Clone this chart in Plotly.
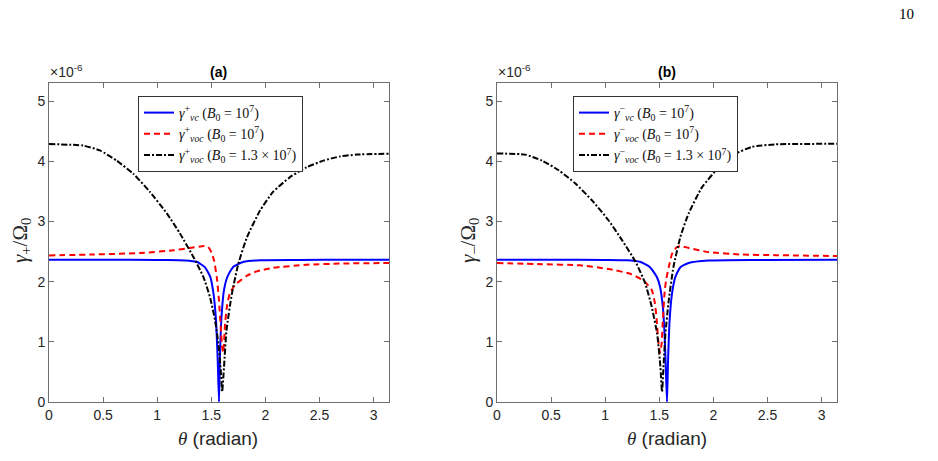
import plotly.graph_objects as go

# ---------------- data (values in units of 1e-6) ----------------
# Panel (a)
a_blue_theta = [0, 0.5, 1.0, 1.2, 1.3, 1.365, 1.44, 1.49, 1.52, 1.543, 1.559, 1.5708,
                1.58, 1.596, 1.617, 1.648, 1.70, 1.80, 1.95, 2.3, 2.8, 3.14159]
a_blue_val = [2.365, 2.365, 2.36, 2.355, 2.345, 2.33, 2.24, 2.08, 1.80, 1.36, 0.69, 0.0,
              0.81, 1.47, 1.86, 2.08, 2.24, 2.33, 2.355, 2.36, 2.365, 2.365]

a_red_theta = [0, 0.4, 0.84, 1.15, 1.30, 1.43, 1.47, 1.50, 1.525, 1.55, 1.57, 1.587, 1.60,
               1.61, 1.627, 1.645, 1.67, 1.72, 1.77, 1.83, 1.92, 2.07, 2.38, 2.69, 3.14159]
a_red_val = [2.435, 2.45, 2.475, 2.52, 2.56, 2.59, 2.575, 2.49, 2.35, 2.08, 1.70, 1.25, 0.91,
             0.82, 1.30, 1.60, 1.80, 1.95, 2.02, 2.10, 2.17, 2.23, 2.28, 2.30, 2.31]

a_black_theta = [0, 0.317, 0.47, 0.625, 0.78, 0.933, 1.09, 1.21, 1.334, 1.426, 1.488, 1.534,
                 1.565, 1.587, 1.60, 1.617, 1.64, 1.69, 1.75, 1.83, 1.95, 2.07, 2.23, 2.38,
                 2.535, 2.69, 2.84, 3.14159]
a_black_val = [4.285, 4.26, 4.18, 4.01, 3.79, 3.49, 3.13, 2.80, 2.41, 2.08, 1.74, 1.36,
               0.97, 0.53, 0.17, 0.58, 1.19, 1.80, 2.30, 2.74, 3.18, 3.49, 3.74, 3.90,
               4.01, 4.08, 4.11, 4.125]

# Panel (b)
b_blue_theta = [0, 0.5, 1.0, 1.2, 1.32, 1.414, 1.476, 1.506, 1.534, 1.55, 1.56, 1.5708,
                1.58, 1.595, 1.617, 1.648, 1.694, 1.77, 1.956, 2.4, 3.14159]
b_blue_val = [2.365, 2.365, 2.36, 2.355, 2.33, 2.24, 2.08, 1.92, 1.55, 1.05, 0.55, 0.0,
              0.66, 1.36, 1.80, 2.08, 2.24, 2.31, 2.35, 2.36, 2.365]

b_red_theta = [0, 0.416, 0.767, 1.03, 1.23, 1.352, 1.43, 1.46, 1.476, 1.49, 1.506, 1.52,
               1.535, 1.55, 1.565, 1.587, 1.617, 1.66, 1.694, 1.77, 1.956, 2.26, 2.57, 3.14159]
b_red_val = [2.31, 2.29, 2.27, 2.21, 2.13, 2.02, 1.86, 1.63, 1.36, 1.02, 0.82, 0.95,
             1.45, 1.85, 2.05, 2.24, 2.46, 2.57, 2.59, 2.56, 2.49, 2.45, 2.44, 2.425]

b_black_theta = [0, 0.26, 0.416, 0.57, 0.724, 0.878, 1.03, 1.155, 1.28, 1.37, 1.43, 1.48,
                 1.51, 1.525, 1.54, 1.556, 1.587, 1.63, 1.694, 1.77, 1.895, 2.05, 2.20,
                 2.357, 2.57, 3.14159]
b_black_val = [4.13, 4.11, 4.01, 3.85, 3.63, 3.35, 3.02, 2.69, 2.33, 1.97, 1.58, 1.13,
               0.58, 0.17, 0.64, 1.13, 1.69, 2.24, 2.74, 3.13, 3.57, 3.90, 4.12,
               4.24, 4.28, 4.29]

x_ticks = [0, 0.5, 1, 1.5, 2, 2.5, 3]
x_tick_labels = ["0", "0.5", "1", "1.5", "2", "2.5", "3"]
y_ticks = [0, 1, 2, 3, 4, 5]
y_tick_labels = ["0", "1", "2", "3", "4", "5"]

legend_a = ["<i>γ</i><sup>+</sup><sub><i>νc</i></sub> (<i>B</i><sub>0</sub> = 10<sup>7</sup>)",
            "<i>γ</i><sup>+</sup><sub><i>νoc</i></sub> (<i>B</i><sub>0</sub> = 10<sup>7</sup>)",
            "<i>γ</i><sup>+</sup><sub><i>νoc</i></sub> (<i>B</i><sub>0</sub> = 1.3 × 10<sup>7</sup>)"]
legend_b = ["<i>γ</i><sup>−</sup><sub><i>νc</i></sub> (<i>B</i><sub>0</sub> = 10<sup>7</sup>)",
            "<i>γ</i><sup>−</sup><sub><i>νoc</i></sub> (<i>B</i><sub>0</sub> = 10<sup>7</sup>)",
            "<i>γ</i><sup>−</sup><sub><i>νoc</i></sub> (<i>B</i><sub>0</sub> = 1.3 × 10<sup>7</sup>)"]

# ---------------- figure ----------------
W, H = 938, 461
fig = go.Figure()

styles = [dict(color="#0000ff", width=2, dash="solid", shape="spline", smoothing=0.5),
          dict(color="#ff0000", width=2, dash="6px,4px", shape="spline", smoothing=0.5),
          dict(color="#000000", width=2, dash="6px,2px,2px,2px", shape="spline", smoothing=0.5)]

for (th, v), name, st in zip([(a_blue_theta, a_blue_val), (a_red_theta, a_red_val),
                              (a_black_theta, a_black_val)], legend_a, styles):
    fig.add_trace(go.Scatter(x=th, y=v, mode="lines", name=name, line=st,
                             xaxis="x", yaxis="y", legend="legend"))
for (th, v), name, st in zip([(b_blue_theta, b_blue_val), (b_red_theta, b_red_val),
                              (b_black_theta, b_black_val)], legend_b, styles):
    fig.add_trace(go.Scatter(x=th, y=v, mode="lines", name=name, line=st,
                             xaxis="x2", yaxis="y2", legend="legend2"))

def px(x):
    return x / W

def py(y):
    return (H - y) / H

axis_common = dict(showline=True, mirror="ticks", linecolor="#6e6e6e", linewidth=1,
                   ticks="inside", ticklen=5, tickcolor="#6e6e6e", showgrid=False,
                   zeroline=False, automargin=False,
                   tickfont=dict(family="Liberation Sans", size=14, color="#262626"))

left_dom = [px(49), px(389)]
right_dom = [px(497), px(837)]
y_dom = [py(402), py(83)]

legend_common = dict(xanchor="left", yanchor="top", bgcolor="white",
                     bordercolor="#333333", borderwidth=1,
                     font=dict(family="Liberation Serif", size=14, color="#111111"),
                     tracegroupgap=0, itemwidth=30)

fig.update_layout(
    width=W, height=H, autosize=False, margin=dict(l=0, r=0, t=0, b=0, pad=0),
    paper_bgcolor="white", plot_bgcolor="white", showlegend=True,
    xaxis=dict(domain=left_dom, range=[0, 3.14159], tickvals=x_ticks,
               ticktext=x_tick_labels, anchor="y", **axis_common),
    yaxis=dict(domain=y_dom, range=[0, 5.3], tickvals=y_ticks,
               ticktext=y_tick_labels, anchor="x", **axis_common),
    xaxis2=dict(domain=right_dom, range=[0, 3.14159], tickvals=x_ticks,
                ticktext=x_tick_labels, anchor="y2", **axis_common),
    yaxis2=dict(domain=y_dom, range=[0, 5.3], tickvals=y_ticks,
                ticktext=y_tick_labels, anchor="x2", **axis_common),
    legend=dict(x=px(138), y=py(96), **legend_common),
    legend2=dict(x=px(573), y=py(96), **legend_common),
)

def note(text, x, y, size, family="Liberation Sans", xa="center", ya="middle",
         angle=0, color="#262626"):
    return dict(text=text, x=px(x), y=py(y), xref="paper", yref="paper",
                xanchor=xa, yanchor=ya, showarrow=False, textangle=angle,
                font=dict(family=family, size=size, color=color))

ann = [
    note("<b>(a)</b>", 218, 72, 14, color="#000000"),
    note("<b>(b)</b>", 667, 72, 14, color="#000000"),
    note("×10<sup>-6</sup>", 48, 82, 14, xa="left", ya="bottom"),
    note("×10<sup>-6</sup>", 496, 82, 14, xa="left", ya="bottom"),
    note("<i><span style='font-family:Liberation Serif'>θ</span></i> (radian)", 218, 438, 19),
    note("<i><span style='font-family:Liberation Serif'>θ</span></i> (radian)", 667, 438, 19),
    note("<i>γ</i><sub>+</sub>/Ω<sub>0</sub>", 21, 241, 21, family="Liberation Serif", angle=-90),
    note("<i>γ</i><sub>−</sub>/Ω<sub>0</sub>", 469, 241, 21, family="Liberation Serif", angle=-90),
    note("10", 906, 14, 15, family="Liberation Serif", color="#000000"),
]
fig.update_layout(annotations=ann)

fig.write_html("out.html")
